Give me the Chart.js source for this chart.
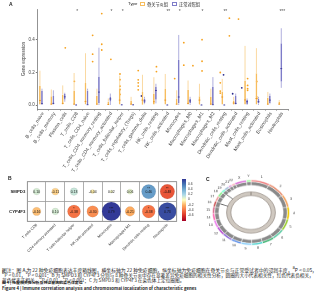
<!DOCTYPE html>
<html><head><meta charset="utf-8">
<script src="https://cdn.jsdelivr.net/npm/chart.js@4.4.1/dist/chart.umd.min.js"></script>
<style>
html,body{margin:0;padding:0;background:#fff;width:324px;height:300px;overflow:hidden;font-family:"Noto Sans CJK SC","Noto Sans",sans-serif;}
#wrap{position:relative;width:324px;height:300px;}
.abs{position:absolute;}
.t{position:absolute;white-space:nowrap;line-height:1;color:#222;}
</style></head><body><div id="wrap">
<canvas id="cA" class="abs" style="left:0px;top:0px" width="324" height="182"></canvas>
<canvas id="cB" class="abs" style="left:0px;top:172px" width="200" height="80"></canvas>
<canvas id="cC" class="abs" style="left:196px;top:171.7px;width:110px;height:81.6px" width="110" height="96"></canvas>
<div class="t" style="left:9px;top:2px;font-size:5px;font-weight:bold;font-family:'Liberation Sans'">A</div>
<div class="t" style="left:8px;top:176px;font-size:5px;font-weight:bold;font-family:'Liberation Sans'">B</div>
<div class="t" style="left:206px;top:177px;font-size:5px;font-weight:bold;font-family:'Liberation Sans'">C</div>
<div id="legA"></div>
<div id="cbar"></div>
<div id="cap"></div>
</div>
<script>
// ---------- Panel A data ----------
const cats = ['B_cells_naive','B_cells_memory','Plasma_cells','T_cells_CD8','T_cells_CD4_naive','T_cells_CD4_memory_resting','T_cells_CD4_memory_activated','T_cells_follicular_helper','T_cells_regulatory_(Tregs)','T_cells_gamma_delta','NK_cells_resting','NK_cells_activated','Monocytes','Macrophages_M0','Macrophages_M1','Macrophages_M2','Dendritic_cells_resting','Dendritic_cells_activated','Mast_cells_resting','Mast_cells_activated','Eosinophils','Neutrophils'];
const groups = ['骨关节炎组','正常对照组'];
const oaMin = [0,0,0,0,0,0,0,0,0,0,0,0,0,0,0,0,0,0,0,0,0,0];
const oaQ1  = [0.005,0,0,0,0,0,0,0,0,0.002,0,0,0,0,0.005,0,0,0.003,0,0,0,0];
const oaMed = [0.028,0.005,0.01,0.005,0.022,0.005,0.003,0.03,0.005,0.03,0.02,0.03,0.005,0.01,0.03,0.005,0.049,0.012,0.031,0.04,0.005,0.005];
const oaQ3  = [0.12,0.053,0.063,0.089,0.134,0.057,0.02,0.098,0.025,0.079,0.067,0.098,0.04,0.093,0.053,0.049,0.081,0.025,0.148,0.195,0.045,0.02];
const oaMax = [0.21,0.095,0.12,0.196,0.317,0.1,0.04,0.18,0.05,0.185,0.17,0.19,0.09,0.15,0.13,0.1,0.16,0.05,0.362,0.348,0.08,0.03];
const ctMin = [0,0,0.02,0,0,0,0,0,0,0.005,0.01,0,0,0,0,0,0,0,0,0,0.005,0.105];
const ctQ1  = [0,0,0.032,0,0,0.01,0.02,0,0,0.01,0.032,0,0.01,0.01,0,0,0,0,0.005,0.01,0.01,0.142];
const ctMed = [0.008,0.01,0.05,0,0.002,0.079,0.037,0.001,0.001,0.025,0.089,0,0.049,0.025,0,0.002,0,0.01,0.02,0.02,0.03,0.223];
const ctQ3  = [0.085,0.055,0.067,0.002,0.089,0.174,0.049,0.004,0.004,0.04,0.113,0.003,0.276,0.04,0.003,0.11,0.003,0.055,0.03,0.04,0.055,0.378];
const ctMax = [0.1,0.09,0.075,0.004,0.1,0.351,0.07,0.006,0.006,0.05,0.13,0.005,0.429,0.05,0.005,0.171,0.005,0.07,0.04,0.05,0.07,0.47];
const oaOut = [[0,0.35],[1,0.145],[3,0.427],[3,0.311],[3,0.266],[4,0.56],[4,0.372],[4,0.337],[5,0.28],
  [6,0.19],[6,0.155],[6,0.115],[6,0.095],[6,0.065],[8,0.211],[8,0.154],[8,0.136],[8,0.116],[8,0.093],
  [10,0.235],[10,0.205],[12,0.162],[13,0.382],[13,0.244],[14,0.241],[15,0.4],[15,0.268],[15,0.209],
  [17,0.199],[17,0.136],[17,0.085],[17,0.073],[18,0.532],[18,0.424],[19,0.526],
  [20,0.162],[20,0.12],[20,0.1],[20,0.09],[21,0.144],[21,0.05],[21,0.04]];
const ctOut = [[8,0.055],[17,0.185],[18,0.069],[19,0.105]];
const sigIdx  = [3,6,7,11,12,14,16,21];
const sigText = ['*','*','*','**','*','*','**','***'];
const yTicks = [0,0.2,0.4];

// ---------- Panel B data ----------
const genesB = ['SMPD3','CYP4F3'];
const cellsB = ['T cells CD8','T cells CD4 memory activated','T cells follicular helper','NK cells activated','Monocytes','Macrophages M1','Dendritic cells resting','Neutrophils'];
const corSMPD3  = [0.10,-0.11,0.13,-0.04,0.02,0.06,0.46,-0.48];
const corCYP4F3 = [-0.16,0.10,-0.38,-0.30,0.79,-0.21,-0.38,0.73];
const starSMPD3  = ['','','','','','','**','**'];
const starCYP4F3 = ['','','*','','***','','*','***'];
const cbTicks = [0.6,0.4,0.2,0,-0.2,-0.4,-0.6];

// ---------- Panel C data ----------
const chroms = ['1','2','3','4','5','6','7','8','9','10','11','12','13','14','15','16','17','18','19','20','21','22','X','Y'];
const chromLen = [249,243,198,191,181,171,159,146,141,136,135,134,115,107,103,90,81,78,59,63,48,51,155,59];
const geneChrom = ['16','19'];
const genePosMb = [68.4,15.6];

// ---------- styles ----------
const OA_COL = '#F7BD5E', OA_PT = '#F5A21F', OA_WH = '#F9CF8A';
const CT_COL = '#7E7CC9', CT_PT = '#2B2B8C', CT_WH = '#9C9AD6', CT_MED='#3E3C9E', OA_MED='#E8962A';

const boxPlugin = {
  id:'boxExtras',
  afterDatasetsDraw(chart){
    const ctx = chart.ctx, ys = chart.scales.y;
    const sets = [[oaMin,oaQ1,oaMed,oaQ3,oaMax,OA_WH,OA_MED],[ctMin,ctQ1,ctMed,ctQ3,ctMax,CT_WH,CT_MED]];
    ctx.save();
    sets.forEach((s,d)=>{
      const meta = chart.getDatasetMeta(d);
      meta.data.forEach((el,i)=>{
        const x = el.x, w = el.width;
        ctx.strokeStyle = s[5]; ctx.lineWidth = 0.8;
        ctx.beginPath();
        ctx.moveTo(x, ys.getPixelForValue(s[4][i])); ctx.lineTo(x, ys.getPixelForValue(s[3][i]));
        ctx.moveTo(x, ys.getPixelForValue(s[1][i])); ctx.lineTo(x, ys.getPixelForValue(s[0][i]));
        ctx.stroke();
        ctx.strokeStyle = s[6]; ctx.lineWidth = 1;
        ctx.beginPath();
        const ym = ys.getPixelForValue(s[2][i]);
        ctx.moveTo(x-w/2, ym); ctx.lineTo(x+w/2, ym); ctx.stroke();
      });
    });
    const xs = chart.scales.x;
    ctx.fillStyle = '#555'; ctx.font = '5px "Liberation Sans"'; ctx.textAlign='center'; ctx.textBaseline='middle';
    sigIdx.forEach((ci,k)=>{ ctx.fillText(sigText[k], xs.getPixelForValue(ci), chart.chartArea.top+3); });
    ctx.restore();
  }
};

new Chart(document.getElementById('cA'), {
  type:'bar',
  data:{ labels:cats, datasets:[
    {label:groups[0], data:cats.map((c,i)=>[oaQ1[i],oaQ3[i]]), backgroundColor:'rgba(255,255,255,0.9)', borderColor:OA_COL, borderWidth:0.9, borderSkipped:false, categoryPercentage:0.72, barPercentage:0.85},
    {label:groups[1], data:cats.map((c,i)=>[ctQ1[i],ctQ3[i]]), backgroundColor:'rgba(255,255,255,0.9)', borderColor:CT_COL, borderWidth:0.9, borderSkipped:false, categoryPercentage:0.72, barPercentage:0.85},
    {type:'scatter', xAxisID:'x2', data:oaOut.map(([i,v])=>({x:i-0.18,y:v})), pointRadius:0.9, backgroundColor:OA_PT, borderWidth:0},
    {type:'scatter', xAxisID:'x2', data:ctOut.map(([i,v])=>({x:i+0.18,y:v})), pointRadius:0.9, backgroundColor:CT_PT, borderWidth:0}
  ]},
  options:{ responsive:false, animation:false, devicePixelRatio:1,
    layout:{padding:{left:21,right:36,top:9,bottom:0}},
    plugins:{legend:{display:false}, tooltip:{enabled:false}},
    scales:{
      x:{ type:'category', offset:true,
          grid:{drawOnChartArea:false, drawTicks:true, tickLength:1.5, color:'#777'},
          border:{color:'#777', width:0.8},
          ticks:{font:{size:4.9, family:'Liberation Sans'}, color:'#444', maxRotation:57, minRotation:57, autoSkip:false, padding:0.5},
          afterFit(s){ s.height = 73; } },
      x2:{ type:'linear', display:false, min:-0.5, max:21.5 },
      y:{ min:-0.0245, max:0.588,
          afterBuildTicks(s){ s.ticks = yTicks.map(v=>({value:v})); },
          ticks:{ callback:v=>Number(v).toFixed(1), font:{size:4.5, family:'Liberation Sans'}, color:'#444', padding:1 },
          grid:{drawOnChartArea:false, drawTicks:true, tickLength:1.5, color:'#777'},
          border:{color:'#777', width:0.8},
          title:{display:true, text:'Gene expression', font:{size:4.5, family:'Liberation Sans'}, color:'#333', padding:0},
          afterFit(s){ s.width = 16.3; } }
    }
  },
  plugins:[boxPlugin]
});

document.getElementById('legA').innerHTML =
 '<div class="t" style="left:128px;top:2px;font-size:4.3px;font-family:Liberation Sans">Type</div>'+
 '<div class="abs" style="left:140px;top:2px;width:5px;height:4px;border:0.8px solid '+OA_COL+';box-sizing:border-box"></div>'+
 '<div class="t" style="left:147px;top:2px;font-size:4.2px">'+groups[0]+'</div>'+
 '<div class="abs" style="left:172px;top:2px;width:5px;height:4px;border:0.8px solid '+CT_COL+';box-sizing:border-box"></div>'+
 '<div class="t" style="left:179px;top:2px;font-size:4.2px">'+groups[1]+'</div>';

// ---------- Panel B ----------
const rdylbu = [[-0.8,[165,0,38]],[-0.6,[215,48,39]],[-0.4,[244,109,67]],[-0.2,[253,174,97]],[0,[255,255,191]],[0.2,[171,217,233]],[0.4,[116,173,209]],[0.6,[69,117,180]],[0.8,[49,54,149]]];
function colorFor(v){
  v = Math.max(-0.8, Math.min(0.8, v));
  for(let k=0;k<rdylbu.length-1;k++){
    const [a,ca]=rdylbu[k],[b,cb]=rdylbu[k+1];
    if(v>=a && v<=b){ const t=(v-a)/(b-a); const c=ca.map((x,j)=>Math.round(x+(cb[j]-x)*t)); return 'rgb('+c.join(',')+')'; }
  }
  return '#fff';
}
const bubData = [], bubVals = [], bubStars = [];
[corSMPD3,corCYP4F3].forEach((arr,gi)=>arr.forEach((v,ci)=>{
  bubData.push({x:cellsB[ci], y:genesB[gi], r:10.5*Math.sqrt(Math.abs(v))});
  bubVals.push(v); bubStars.push((gi===0?starSMPD3:starCYP4F3)[ci]);
}));
const bubLabelPlugin = {
  id:'bubLabels',
  afterDatasetsDraw(chart){
    const ctx = chart.ctx, meta = chart.getDatasetMeta(0);
    ctx.save(); ctx.textAlign='center'; ctx.textBaseline='middle'; ctx.fillStyle='#111';
    meta.data.forEach((el,k)=>{
      ctx.font = '3.4px "Liberation Sans"';
      ctx.fillText(bubVals[k].toFixed(2), el.x, el.y+0.8);
      if(bubStars[k]) ctx.fillText(bubStars[k], el.x, el.y-2.2);
    });
    ctx.restore();
  }
};
new Chart(document.getElementById('cB'), {
  type:'bubble',
  data:{ datasets:[{ data:bubData, backgroundColor:bubVals.map(colorFor), borderColor:'rgba(0,0,0,0.15)', borderWidth:0.4 }]},
  options:{ responsive:false, animation:false, devicePixelRatio:1,
    layout:{padding:{left:0,right:23.3,top:6.7,bottom:0}},
    plugins:{legend:{display:false}, tooltip:{enabled:false}},
    scales:{
      x:{ type:'category', labels:cellsB, offset:true,
          grid:{offset:true, color:'#9a9a9a', lineWidth:0.8, drawTicks:false},
          border:{color:'#9a9a9a', width:0.8},
          ticks:{font:{size:3.8, family:'Liberation Sans'}, color:'#333', maxRotation:45, minRotation:45, autoSkip:false, padding:1.5},
          afterFit(s){ s.height = 30.7; } },
      y:{ type:'category', labels:genesB, offset:true,
          grid:{offset:true, color:'#9a9a9a', lineWidth:0.8, drawTicks:false},
          border:{color:'#9a9a9a', width:0.8},
          ticks:{font:{size:4.3, family:'Liberation Sans', weight:'bold'}, color:'#222', padding:2},
          afterFit(s){ s.width = 27.3; } }
    }
  },
  plugins:[bubLabelPlugin, {id:'frame', afterDraw(c){const a=c.chartArea,x=c.ctx;x.save();x.strokeStyle='#9a9a9a';x.lineWidth=0.8;x.strokeRect(a.left,a.top,a.right-a.left,a.bottom-a.top);x.restore();}}]
});

(function(){
  const stops = rdylbu.slice().reverse().map(s=>colorFor(s[0]));
  let h = '<div class="abs" style="left:181.5px;top:179px;width:4.5px;height:42px;background:linear-gradient(to bottom,'+stops.join(',')+')"></div>';
  cbTicks.forEach(v=>{
    const y = 179 + (0.8 - v)/1.6*42;
    h += '<div class="t" style="left:188px;top:'+(y-1.6)+'px;font-size:3.3px;font-family:Liberation Sans;color:#333">'+(v===0?'0':v.toFixed(1))+'</div>';
  });
  document.getElementById('cbar').innerHTML = h;
})();

// ---------- Panel C ----------
const palette = ['#F08080','#E9967A','#F4A460','#EEC900','#9ACD32','#66CDAA','#3CB371','#48D1CC','#87CEFA','#6495ED','#9370DB','#BA55D3','#EE82EE','#FF69B4','#DB7093','#CD5C5C','#F0A0A0','#90EE90','#7FFFD4','#B0C4DE','#DDA0DD','#FFB6C1','#DA70D6','#98FB98'];
const ringPlugin = {
  id:'ringExtras',
  afterDatasetsDraw(chart){
    const ctx = chart.ctx, meta = chart.getDatasetMeta(0);
    ctx.save();
    ctx.font = '3.6px "Liberation Sans"'; ctx.fillStyle='#333'; ctx.textAlign='center'; ctx.textBaseline='middle';
    meta.data.forEach((el,i)=>{
      const a = (el.startAngle+el.endAngle)/2, R = el.outerRadius + 4.5;
      ctx.fillText(chroms[i], el.x + R*Math.cos(a), el.y + R*Math.sin(a));
    });
    const inner = chart.getDatasetMeta(3).data[0];
    ctx.strokeStyle = '#222'; ctx.lineWidth = 0.7;
    geneChrom.forEach((c,k)=>{
      const i = chroms.indexOf(c), el = meta.data[i];
      const a = el.startAngle + (el.endAngle-el.startAngle)*genePosMb[k]/chromLen[i];
      const r1 = inner.outerRadius, r2 = chart.getDatasetMeta(1).data[i].innerRadius;
      ctx.beginPath();
      ctx.moveTo(el.x + r1*Math.cos(a), el.y + r1*Math.sin(a));
      ctx.lineTo(el.x + r2*Math.cos(a), el.y + r2*Math.sin(a));
      ctx.stroke();
    });
    ctx.restore();
  }
};
new Chart(document.getElementById('cC'), {
  type:'doughnut',
  data:{ labels:chroms, datasets:[
    {data:chromLen, backgroundColor:palette, borderWidth:0.5, borderColor:'#fff', weight:1.5},
    {data:chromLen, backgroundColor:'#8a8a8a', borderWidth:0.5, borderColor:'#fff', weight:3},
    {data:[1], backgroundColor:'rgba(0,0,0,0)', borderWidth:0, weight:5.5},
    {data:[1], backgroundColor:'#cfc8c0', borderColor:'#9a928a', borderWidth:0.8, weight:3}
  ]},
  options:{ responsive:false, animation:false, devicePixelRatio:1, radius:38.5, cutout:25, rotation:0,
    plugins:{legend:{display:false}, tooltip:{enabled:false}} },
  plugins:[ringPlugin]
});

// ---------- caption ----------
const capLines = [
 ['图注：图 A 为 22 种免疫细胞表达丰度箱线图，横坐标轴为 22 种免疫细胞，纵坐标轴为免疫细胞在骨关节炎与正常受试者中的浸润丰度，<sup>a</sup>P &lt; 0.05，',265,316,false],
 ['<sup>b</sup>P &lt; 0.01，<sup>c</sup>P &lt; 0.001；B 为 SMPD3 和 CYP4F3 分别与 8 种骨关节炎中存在显著差异免疫细胞的相关性分析，圆圈的大小代表相关性，红色代表负相关，',270.5,313,false],
 ['蓝色代表正相关，<sup>b</sup>P &lt; 0.01，<sup>c</sup>P &lt; 0.001；C 为 SMPD3 和 CYP4F3 在染色体上定位圈图。',275.5,183,false],
 ['图 4 | 免疫相关性分析及特征基因的染色体定位',280.5,81,true],
 ['Figure 4 | Immune correlation analysis and chromosomal localization of characteristic genes',285.5,195,true]
];
const cap = document.getElementById('cap');
capLines.forEach(([txt,top,w,b])=>{
  const d = document.createElement('div');
  d.className='t'; d.style.left='2px'; d.style.top=top+'px'; d.style.fontSize='10px';
  if(b) d.style.fontWeight='bold';
  d.innerHTML = txt; cap.appendChild(d);
  const W = d.getBoundingClientRect().width;
  d.style.fontSize = (10*w/W).toFixed(3)+'px';
});
</script></body></html>
